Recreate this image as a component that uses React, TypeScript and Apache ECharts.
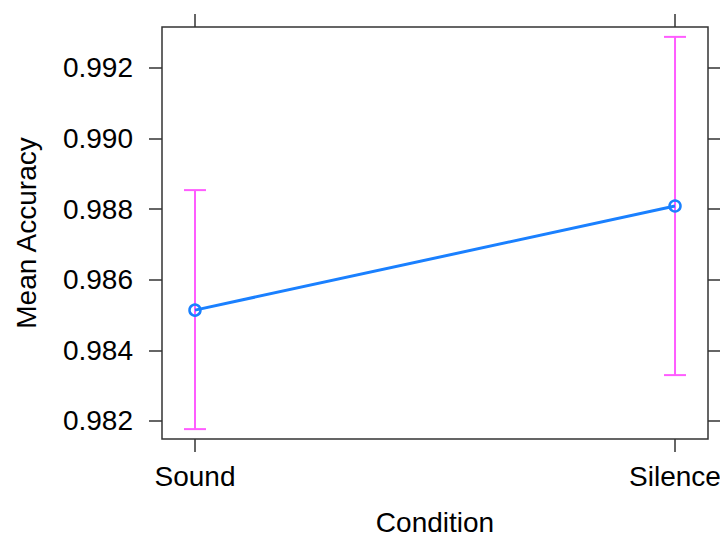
import React, { useEffect, useRef } from "react";
import * as echarts from "echarts";

const categories = ["Sound", "Silence"];
const means = [0.98514, 0.98809];
const lowers = [0.98177, 0.9833];
const uppers = [0.98854, 0.99288];
const yTicks = [0.982, 0.984, 0.986, 0.988, 0.99, 0.992];
const xTicks = [0, 1];

const FONT = "Liberation Sans";
const BLUE = "#1a80ff";
const MAGENTA = "#ff5cff";
const FRAME = "#333333";

export default function App() {
  const ref = useRef<HTMLDivElement>(null);
  useEffect(() => {
    if (!ref.current) return;
    const chart = echarts.init(ref.current, undefined, { renderer: "svg" });
    const xMin = -0.0687;
    const xMax = 1.0687;
    const yMin = 0.98149;
    const yMax = 0.99316;
    const tickStyle = { show: true, inside: false, length: 13, lineStyle: { color: FRAME, width: 1.5 } };
    const noLine = { show: false, onZero: false };
    chart.setOption({
      animation: false,
      backgroundColor: "#fff",
      grid: {
        left: 162,
        right: 12,
        top: 27,
        bottom: 98,
        containLabel: false,
        outerBoundsMode: "none",
        show: true,
        borderColor: FRAME,
        borderWidth: 1.5,
        backgroundColor: "transparent",
      },
      xAxis: [
        {
          type: "value",
          position: "bottom",
          min: xMin,
          max: xMax,
          axisLine: noLine,
          splitLine: { show: false },
          axisTick: { ...tickStyle, customValues: xTicks },
          axisLabel: {
            customValues: xTicks,
            margin: 23,
            fontFamily: FONT,
            fontSize: 28,
            color: "#000",
            formatter: (v: number) => categories[Math.round(v)] ?? "",
          },
          name: "Condition",
          nameLocation: "middle",
          nameGap: 69,
          nameTextStyle: { fontFamily: FONT, fontSize: 28, lineHeight: 28, color: "#000" },
        },
        {
          type: "value",
          position: "top",
          min: xMin,
          max: xMax,
          axisLine: noLine,
          splitLine: { show: false },
          axisTick: { ...tickStyle, customValues: xTicks },
          axisLabel: { show: false },
        },
      ],
      yAxis: [
        {
          type: "value",
          position: "left",
          min: yMin,
          max: yMax,
          axisLine: noLine,
          splitLine: { show: false },
          axisTick: { ...tickStyle, customValues: yTicks },
          axisLabel: {
            customValues: yTicks,
            margin: 29,
            fontFamily: FONT,
            fontSize: 28,
            color: "#000",
            formatter: (v: number) => v.toFixed(3),
          },
          name: "Mean Accuracy",
          nameLocation: "middle",
          nameGap: 122,
          nameTextStyle: { fontFamily: FONT, fontSize: 28, color: "#000" },
        },
        {
          type: "value",
          position: "right",
          min: yMin,
          max: yMax,
          axisLine: noLine,
          splitLine: { show: false },
          axisTick: { ...tickStyle, customValues: yTicks },
          axisLabel: { show: false },
        },
      ],
      series: [
        {
          type: "custom",
          xAxisIndex: 0,
          yAxisIndex: 0,
          z: 1,
          data: categories.map((_, i) => [i, lowers[i], uppers[i]]),
          renderItem: (params: any, api: any) => {
            const x = api.value(0);
            const lo = api.coord([x, api.value(1)]);
            const hi = api.coord([x, api.value(2)]);
            const cap = 11;
            const style = { stroke: MAGENTA, lineWidth: 2 };
            return {
              type: "group",
              children: [
                { type: "line", shape: { x1: lo[0], y1: lo[1], x2: hi[0], y2: hi[1] }, style },
                { type: "line", shape: { x1: lo[0] - cap, y1: lo[1], x2: lo[0] + cap, y2: lo[1] }, style },
                { type: "line", shape: { x1: hi[0] - cap, y1: hi[1], x2: hi[0] + cap, y2: hi[1] }, style },
              ],
            };
          },
        },
        {
          type: "line",
          xAxisIndex: 0,
          yAxisIndex: 0,
          z: 3,
          data: categories.map((_, i) => [i, means[i]]),
          symbol: "circle",
          symbolSize: 11,
          lineStyle: { color: BLUE, width: 3 },
          itemStyle: { color: "rgba(0,0,0,0)", borderColor: BLUE, borderWidth: 2.5 },
        },
      ],
    });
    return () => chart.dispose();
  }, []);
  return (
    <div
      ref={ref}
      style={{ position: "fixed", left: 0, top: 0, width: 720, height: 537 }}
    />
  );
}
